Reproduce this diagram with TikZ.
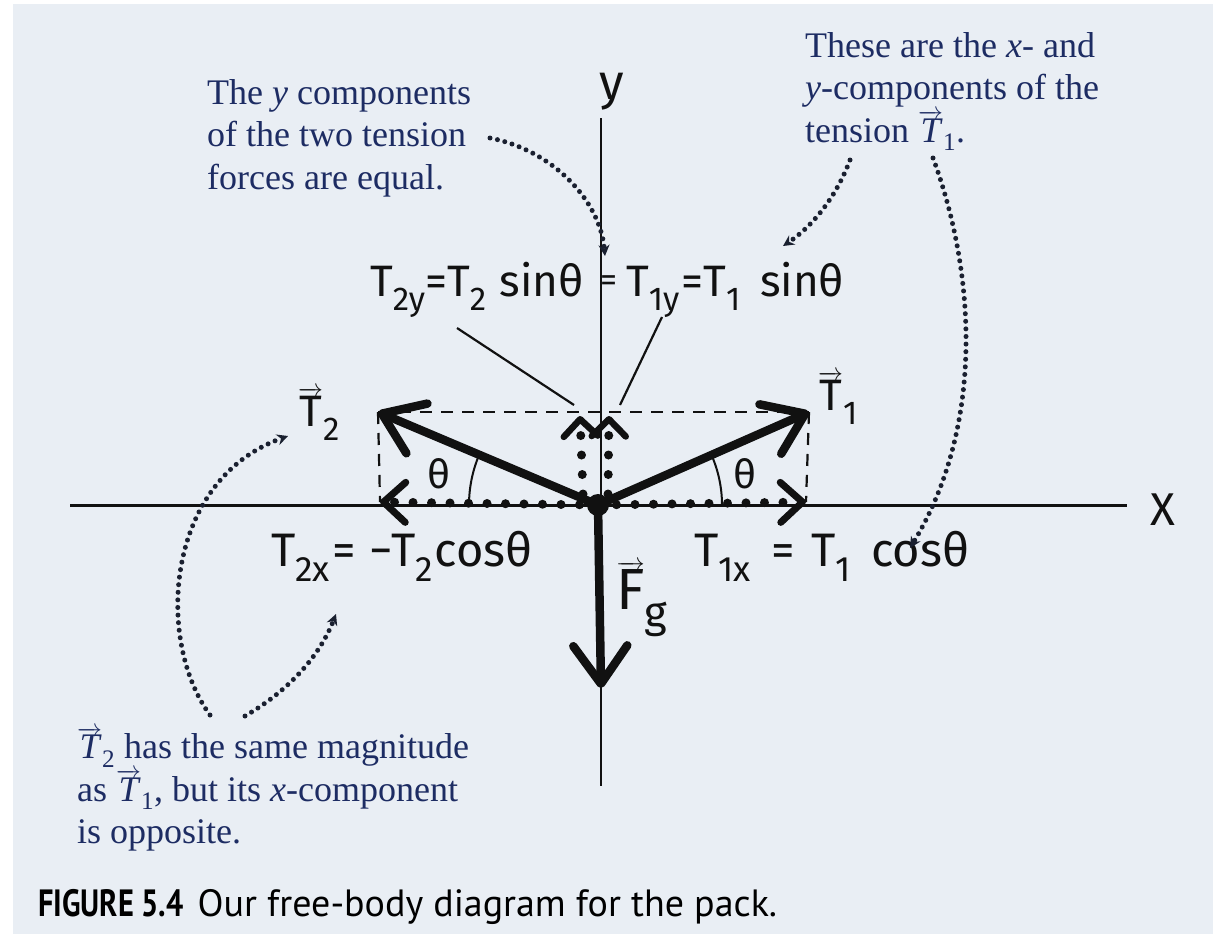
\documentclass[tikz,border=0pt]{standalone}
\usepackage{fontspec}
\usepackage{graphicx}
\setmainfont{Liberation Serif}
\newfontfamily\hand{Fira Sans}
\newfontfamily\capfont{PT Sans}
\usetikzlibrary{arrows.meta}
\definecolor{bgblue}{HTML}{E9EEF4}
\definecolor{navy}{HTML}{1D2C63}
\definecolor{ink}{HTML}{111111}
\definecolor{dotink}{HTML}{1A2030}
\newcommand\lo[1]{\raisebox{-0.32em}{\scalebox{0.75}{#1}}}
\newcommand\hv[1]{$\overrightarrow{\mbox{#1}}$}
\tikzset{
  note/.style={font=\fontsize{36}{42.5}\selectfont, text=navy, align=left, inner sep=0pt, anchor=north west},
  hw/.style={font=\hand\fontsize{44}{44}\selectfont, text=ink, inner sep=0pt},
  hwx/.style={font=\hand\fontsize{47}{47}\selectfont, text=ink, inner sep=0pt},
  axisline/.style={line width=2.2pt, draw=ink},
  vec/.style={line width=8.5pt, draw=ink, line cap=round, -{Straight Barb[length=38pt,width=54pt,round]}},
  compx/.style={line width=9pt, draw=ink, line cap=round, dash pattern=on 0pt off 18.5pt, -{Straight Barb[length=22pt,width=40pt,round,line width=7pt]}},
  compy/.style={line width=9pt, draw=ink, line cap=round, dash pattern=on 0pt off 19.5pt, -{Straight Barb[length=17pt,width=34pt,round,line width=6.5pt]}},
  dashline/.style={line width=2.2pt, draw=ink, dash pattern=on 12pt off 9pt},
  pointer/.style={line width=2.2pt, draw=ink},
  dotarrow/.style={line width=5pt, draw=dotink, line cap=round, dash pattern=on 0pt off 7.6pt, -{Stealth[length=11pt,width=11pt]}},
  anglearc/.style={line width=2pt, draw=ink}
}
\begin{document}
\begin{tikzpicture}[x=1pt,y=-1pt]
\useasboundingbox (0,0) rectangle (1217,934);
\fill[white] (0,0) rectangle (1217,934);
\fill[bgblue] (13,4) rectangle (1213,934);

% key points
\coordinate (O) at (598,505);
\coordinate (T1tip) at (809,412);
\coordinate (T2tip) at (378,412);
\coordinate (T1xtip) at (806,502);
\coordinate (T2xtip) at (380,502);
\coordinate (T1yfoot) at (608,494);
\coordinate (T1ytip) at (609,416);
\coordinate (T2yfoot) at (583,494);
\coordinate (T2ytip) at (580,416);
\coordinate (Fgtip) at (601,688);
\coordinate (xaxL) at (70,505.5);
\coordinate (xaxR) at (1127,505.5);
\coordinate (yaxT) at (601,118);
\coordinate (yaxB) at (601,786);

% axes
\draw[axisline] (xaxL) -- (xaxR);
\draw[axisline] (yaxT) -- (yaxB);
\node[hw, font=\hand\fontsize{46}{46}\selectfont] (xlab) at (1163,510) {X};
\node[hw, font=\hand\fontsize{50}{50}\selectfont] (ylab) at (612,92) {y};

% dashed rectangle
\draw[dashline] (T2tip) -- (T1tip);
\draw[dashline] (T2tip) -- (T2xtip);
\draw[dashline] (T1tip) -- (T1xtip);

% angle arcs
\draw[anglearc] (O) ++(180:129) arc[start angle=180, end angle=203, radius=129];
\draw[anglearc] (O) ++(0:124) arc[start angle=0, end angle=-23.8, radius=124];
\node[hw, font=\hand\fontsize{40}{40}\selectfont] (th2) at (439,474) {θ};
\node[hw, font=\hand\fontsize{40}{40}\selectfont] (th1) at (745,474) {θ};

% components
\draw[compx] (O) -- (T1xtip);
\draw[compx] (O) -- (T2xtip);
\draw[compy] (T2yfoot) -- (T2ytip);
\draw[compy] (T1yfoot) -- (T1ytip);

% vectors
\draw[vec] (O) -- (T1tip);
\draw[vec] (O) -- (T2tip);
\draw[vec] (O) -- (Fgtip);
\node[circle, fill=ink, inner sep=0pt, minimum size=22pt] (dot) at (O) {};

% handwritten labels
\node[hw, anchor=base west] (T2lab) at (298,426) {\hv{T}\lo{2}};
\node[hw, anchor=base west] (T1lab) at (818,410) {\hv{T}\lo{1}};
\node[hw, anchor=base east] (T2ylab) at (584,296) {T\lo{2y}=T\lo{2}\hspace{2pt} sinθ};
\node[hw, font=\hand\fontsize{34}{34}\selectfont] (eqlab) at (609,284) {=};
\node[hw, anchor=base west] (T1ylab) at (626,296) {T\lo{1y}\hspace{2pt}=T\lo{1}\hspace{8pt} sinθ};
\node[hwx, anchor=base west] (T2xlab) at (271,566) {T\lo{2x}\hspace{2pt}=\hspace{2pt} −T\lo{2}\hspace{2pt}cosθ};
\node[hwx, anchor=base west] (T1xlab) at (694,566) {T\lo{1x}\hspace{8pt} =\hspace{4pt} T\lo{1}\hspace{8pt} cosθ};
\node[hw, anchor=base west, font=\hand\fontsize{58}{58}\selectfont] (Fglab) at (616,609) {\hv{F}\lo{g}};

% pointer lines from the y-component labels
\coordinate (p2a) at (457,328);
\coordinate (p2b) at (574,405);
\coordinate (p1a) at (662,317);
\coordinate (p1b) at (620,405);
\draw[pointer] (p2a) -- (p2b);
\draw[pointer] (p1a) -- (p1b);

% annotations
\node[note] (noteA) at (207,79) {The \textit{y} components\\of the two tension\\forces are equal.};
\node[note] (noteB) at (805,32) {These are the \textit{x}- and\\\textit{y}-components of the\\tension $\overrightarrow{\mbox{\itshape T}}$\textsubscript{1}.};
\node[note] (noteC) at (77,727) {$\overrightarrow{\mbox{\itshape T}}$\textsubscript{2} has the same magnitude\\as $\overrightarrow{\mbox{\itshape T}}$\textsubscript{1}, but its \textit{x}-component\\is opposite.};

% dotted pointer arrows
\coordinate (dA0) at (490,138);
\coordinate (dA1) at (605,256);
\draw[dotarrow] (dA0) .. controls (552,150) and (600,200) .. (dA1);
\coordinate (dB0) at (850,160);
\coordinate (dB1) at (783,246);
\draw[dotarrow] (dB0) .. controls (835,200) and (810,228) .. (dB1);
\coordinate (dC0) at (933,158);
\coordinate (dC1) at (910,548);
\draw[dotarrow] (dC0) .. controls (978,280) and (982,430) .. (dC1);
\coordinate (dD0) at (210,715);
\coordinate (dD1) at (288,436);
\draw[dotarrow] (dD0) .. controls (155,640) and (165,480) .. (dD1);
\coordinate (dE0) at (245,716);
\coordinate (dE1) at (336,614);
\draw[dotarrow] (dE0) .. controls (290,690) and (320,655) .. (dE1);

% caption
\node[inner sep=0pt, anchor=base west, font=\capfont\fontsize{38}{38}\selectfont, text=black] (cap) at (38,916)
  {\scalebox{0.8}[1]{\bfseries FIGURE 5.4}\hspace{14pt}Our free-body diagram for the pack.};
\end{tikzpicture}
\end{document}
